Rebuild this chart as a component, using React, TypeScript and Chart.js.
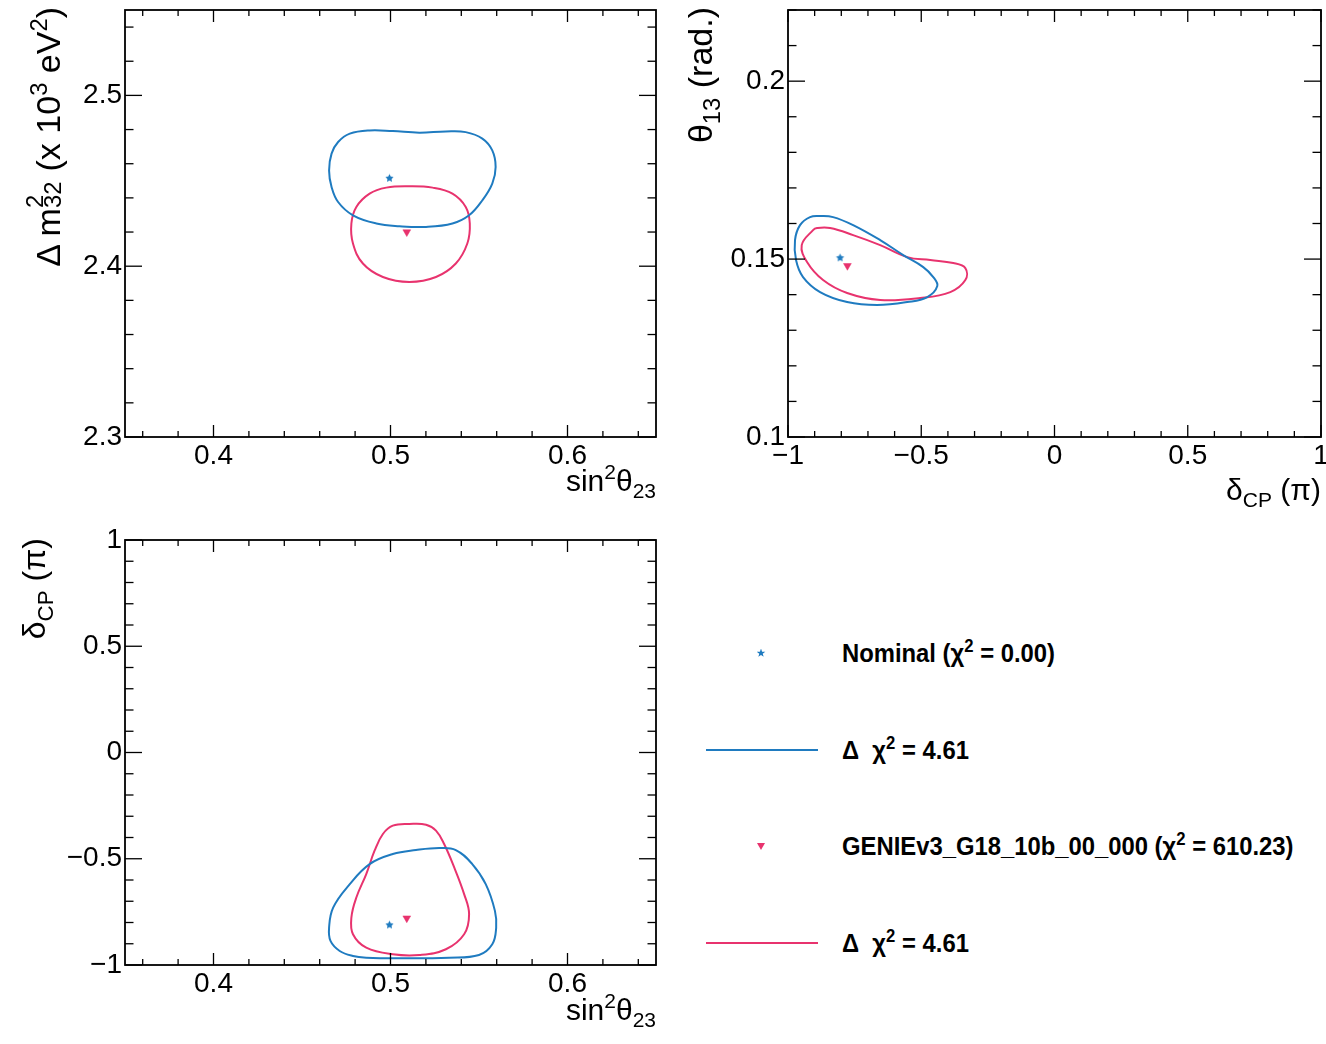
import React, { useEffect, useRef } from "react";
import { Chart, registerables } from "chart.js";
Chart.register(...registerables);

const BLUE = "#1f7bc0";
const PINK = "#e8336e";
const FONT = "'Liberation Sans', Arial, Helvetica, sans-serif";
const TICK_FONT_SIZE = 28;

// ---------- tick values / labels ----------
const SIN2_TICKS = [0.4, 0.5, 0.6];
const SIN2_LABELS = ["0.4", "0.5", "0.6"];
const DM32_TICKS = [2.3, 2.4, 2.5];
const DM32_LABELS = ["2.3", "2.4", "2.5"];
const DCP_TICKS = [-1, -0.5, 0, 0.5, 1];
const DCP_LABELS = ["\u22121", "\u22120.5", "0", "0.5", "1"];
const TH13_TICKS = [0.1, 0.15, 0.2];
const TH13_LABELS = ["0.1", "0.15", "0.2"];

// ---------- panel 1: sin2theta23 vs dm2_32 ----------
const P1_NOM_X = [0.4653, 0.4667, 0.4704, 0.477, 0.4882, 0.5013, 0.5163, 0.5313, 0.5425, 0.5519, 0.5575, 0.5594, 0.5575, 0.5519, 0.5444, 0.535, 0.5201, 0.5051, 0.492, 0.4788, 0.4704, 0.4667];
const P1_NOM_Y = [2.4561, 2.4659, 2.4727, 2.4776, 2.4795, 2.4791, 2.4782, 2.4789, 2.4785, 2.4747, 2.4678, 2.4581, 2.4484, 2.4386, 2.4298, 2.425, 2.423, 2.4234, 2.425, 2.4298, 2.4376, 2.4464];
const P1_GEN_X = [0.5107, 0.5238, 0.535, 0.5425, 0.5448, 0.5434, 0.5369, 0.5257, 0.5107, 0.4957, 0.4844, 0.4788, 0.4779, 0.4807, 0.4882, 0.4976];
const P1_GEN_Y = [2.4468, 2.446, 2.4425, 2.4347, 2.425, 2.4133, 2.4016, 2.3937, 2.3908, 2.3937, 2.4016, 2.4133, 2.425, 2.4347, 2.4425, 2.446];
const P1_NOM_BEST = { x: 0.4994, y: 2.4515 };
const P1_GEN_BEST = { x: 0.5092, y: 2.42 };

// ---------- panel 2: deltaCP vs theta13 ----------
const P2_NOM_X = [-0.9737, -0.9549, -0.9173, -0.8797, -0.8308, -0.7556, -0.6541, -0.5677, -0.4925, -0.4549, -0.4398, -0.4774, -0.5526, -0.6654, -0.7782, -0.8797, -0.9436, -0.9699];
const P2_NOM_Y = [0.15534, 0.15955, 0.1618, 0.16208, 0.1618, 0.15955, 0.15534, 0.15112, 0.14775, 0.14494, 0.14242, 0.13933, 0.13792, 0.13708, 0.13792, 0.14073, 0.14494, 0.14972];
const P2_GEN_X = [-0.906, -0.891, -0.8421, -0.7556, -0.6541, -0.5526, -0.4662, -0.3797, -0.3346, -0.3346, -0.391, -0.5038, -0.6541, -0.7782, -0.8684, -0.9286, -0.9485];
const P2_GEN_Y = [0.15815, 0.15871, 0.15871, 0.15674, 0.15393, 0.15056, 0.14972, 0.14888, 0.14747, 0.1441, 0.14073, 0.13904, 0.13848, 0.14045, 0.1441, 0.14916, 0.15393];
const P2_NOM_BEST = { x: -0.8045, y: 0.15037 };
const P2_GEN_BEST = { x: -0.7771, y: 0.14812 };

// ---------- panel 3: sin2theta23 vs deltaCP ----------
const P3_NOM_X = [0.4653, 0.4676, 0.477, 0.4882, 0.5013, 0.5144, 0.5275, 0.5369, 0.5462, 0.5538, 0.559, 0.5597, 0.5575, 0.55, 0.5331, 0.5051, 0.4863, 0.4788, 0.4713, 0.4661];
const P3_NOM_Y = [-0.8241, -0.7297, -0.6193, -0.525, -0.4778, -0.459, -0.4495, -0.459, -0.525, -0.6193, -0.7453, -0.8241, -0.9024, -0.9528, -0.9655, -0.9684, -0.9655, -0.9575, -0.934, -0.8868];
const P3_GEN_X = [0.5107, 0.5201, 0.5257, 0.5303, 0.536, 0.5416, 0.5444, 0.5416, 0.5313, 0.5163, 0.5013, 0.4863, 0.4788, 0.4779, 0.4807, 0.4863, 0.491, 0.4957, 0.5013];
const P3_GEN_Y = [-0.3363, -0.3396, -0.3679, -0.4307, -0.541, -0.6665, -0.7608, -0.8552, -0.9259, -0.9528, -0.9495, -0.9184, -0.8552, -0.7769, -0.6825, -0.5722, -0.4623, -0.3835, -0.3443];
const P3_NOM_BEST = { x: 0.4994, y: -0.8113 };
const P3_GEN_BEST = { x: 0.5092, y: -0.7797 };

const zip = (xs: number[], ys: number[]) => xs.map((x, i) => ({ x, y: ys[i] }));

function makeStar(color: string, r: number) {
  const size = Math.ceil(r * 2 + 2);
  const c = document.createElement("canvas");
  c.width = size;
  c.height = size;
  const g = c.getContext("2d")!;
  g.fillStyle = color;
  g.beginPath();
  for (let i = 0; i < 10; i++) {
    const rr = i % 2 === 0 ? r : r * 0.5;
    const a = -Math.PI / 2 + (i * Math.PI) / 5;
    const px = size / 2 + rr * Math.cos(a);
    const py = size / 2 + rr * Math.sin(a);
    if (i === 0) g.moveTo(px, py);
    else g.lineTo(px, py);
  }
  g.closePath();
  g.fill();
  return c;
}

const closedLoopPlugin = {
  id: "closedLoops",
  afterDatasetsUpdate(chart: any) {
    chart.data.datasets.forEach((ds: any, i: number) => {
      if (!ds.closed) return;
      const line: any = chart.getDatasetMeta(i).dataset;
      if (line) {
        line._loop = true;
        line._fullLoop = true;
        line._pointsUpdated = false;
        delete line._segments;
        line._path = undefined;
      }
    });
  },
};

const framePlugin = {
  id: "rootFrame",
  afterDraw(chart: any, _args: any, opts: any) {
    const { ctx, chartArea: a, scales } = chart;
    const xs = scales.x;
    const ys = scales.y;
    ctx.save();
    ctx.strokeStyle = "#000";
    ctx.lineWidth = 1.3;
    const seg = (x1: number, y1: number, x2: number, y2: number) => {
      ctx.beginPath();
      ctx.moveTo(x1, y1);
      ctx.lineTo(x2, y2);
      ctx.stroke();
    };
    const isMajor = (v: number, m: number) => Math.abs(v / m - Math.round(v / m)) < 1e-6;
    const xk0 = Math.ceil(xs.min / opts.xMinor - 1e-6);
    const xk1 = Math.floor(xs.max / opts.xMinor + 1e-6);
    for (let k = xk0; k <= xk1; k++) {
      const v = k * opts.xMinor;
      const len = isMajor(v, opts.xMajor) ? 12 : 6;
      const p = xs.getPixelForValue(v);
      seg(p, a.bottom, p, a.bottom - len);
      seg(p, a.top, p, a.top + len);
    }
    const yk0 = Math.ceil(ys.min / opts.yMinor - 1e-6);
    const yk1 = Math.floor(ys.max / opts.yMinor + 1e-6);
    for (let k = yk0; k <= yk1; k++) {
      const v = k * opts.yMinor;
      const len = isMajor(v, opts.yMajor) ? 17 : 8.5;
      const p = ys.getPixelForValue(v);
      seg(a.left, p, a.left + len, p);
      seg(a.right, p, a.right - len, p);
    }
    ctx.lineWidth = 1.8;
    ctx.strokeRect(a.left, a.top, a.right - a.left, a.bottom - a.top);
    ctx.restore();
  },
};

function axis(min: number, max: number, ticks: number[], labels: string[], pos: string, size: number, padding: number) {
  return {
    type: "linear",
    position: pos,
    min,
    max,
    afterBuildTicks: (s: any) => {
      s.ticks = ticks.map((v) => ({ value: v }));
    },
    afterFit: (s: any) => {
      if (pos === "bottom") s.height = size;
      else s.width = size;
      s.paddingLeft = 0;
      s.paddingRight = 0;
      s.paddingTop = 0;
      s.paddingBottom = 0;
    },
    ticks: {
      autoSkip: false,
      maxRotation: 0,
      minRotation: 0,
      padding,
      color: "#000",
      font: { family: FONT, size: TICK_FONT_SIZE },
      callback: (_v: any, i: number) => labels[i],
    },
    grid: { display: false, drawTicks: false },
    border: { display: false },
  };
}

type PanelCfg = {
  left: number; top: number; w: number; h: number;
  pad: { left: number; top: number; right: number; bottom: number };
  yWidth: number; xHeight: number;
  xMin: number; xMax: number; yMin: number; yMax: number;
  xTicks: number[]; xLabels: string[]; yTicks: number[]; yLabels: string[];
  xMajor: number; xMinor: number; yMajor: number; yMinor: number;
  nomX: number[]; nomY: number[]; genX: number[]; genY: number[];
  nomBest: { x: number; y: number }; genBest: { x: number; y: number };
};

const PANELS: PanelCfg[] = [
  {
    left: 0, top: 0, w: 680, h: 480, pad: { left: 0, top: 10, right: 24, bottom: 0 }, yWidth: 125, xHeight: 43,
    xMin: 0.35, xMax: 0.65, yMin: 2.3, yMax: 2.55,
    xTicks: SIN2_TICKS, xLabels: SIN2_LABELS, yTicks: DM32_TICKS, yLabels: DM32_LABELS,
    xMajor: 0.1, xMinor: 0.02, yMajor: 0.1, yMinor: 0.02,
    nomX: P1_NOM_X, nomY: P1_NOM_Y, genX: P1_GEN_X, genY: P1_GEN_Y, nomBest: P1_NOM_BEST, genBest: P1_GEN_BEST,
  },
  {
    left: 680, top: 0, w: 646, h: 480, pad: { left: 0, top: 10, right: 5, bottom: 0 }, yWidth: 108, xHeight: 43,
    xMin: -1, xMax: 1, yMin: 0.1, yMax: 0.22,
    xTicks: DCP_TICKS, xLabels: DCP_LABELS, yTicks: TH13_TICKS, yLabels: TH13_LABELS,
    xMajor: 0.5, xMinor: 0.1, yMajor: 0.05, yMinor: 0.01,
    nomX: P2_NOM_X, nomY: P2_NOM_Y, genX: P2_GEN_X, genY: P2_GEN_Y, nomBest: P2_NOM_BEST, genBest: P2_GEN_BEST,
  },
  {
    left: 0, top: 520, w: 680, h: 480, pad: { left: 0, top: 20, right: 24, bottom: 0 }, yWidth: 125, xHeight: 35,
    xMin: 0.35, xMax: 0.65, yMin: -1, yMax: 1,
    xTicks: SIN2_TICKS, xLabels: SIN2_LABELS, yTicks: DCP_TICKS, yLabels: DCP_LABELS,
    xMajor: 0.1, xMinor: 0.02, yMajor: 0.5, yMinor: 0.1,
    nomX: P3_NOM_X, nomY: P3_NOM_Y, genX: P3_GEN_X, genY: P3_GEN_Y, nomBest: P3_NOM_BEST, genBest: P3_GEN_BEST,
  },
];

function ChartPanel({ cfg }: { cfg: PanelCfg }) {
  const ref = useRef<HTMLCanvasElement>(null);
  useEffect(() => {
    const star = makeStar(BLUE, 4.3);
    const chart = new Chart(ref.current as HTMLCanvasElement, {
      type: "scatter",
      data: {
        datasets: [
          {
            type: "line", data: zip(cfg.nomX, cfg.nomY), borderColor: BLUE, borderWidth: 2,
            pointRadius: 0, tension: 0.4, fill: false, closed: true,
          } as any,
          {
            type: "line", data: zip(cfg.genX, cfg.genY), borderColor: PINK, borderWidth: 2,
            pointRadius: 0, tension: 0.4, fill: false, closed: true,
          } as any,
          {
            type: "scatter", data: [cfg.nomBest], pointStyle: star as any, pointRadius: 4,
            showLine: false,
          } as any,
          {
            type: "scatter", data: [cfg.genBest], pointStyle: "triangle", rotation: 180, pointRadius: 4.5,
            backgroundColor: PINK, borderColor: PINK, borderWidth: 0.5, showLine: false,
          } as any,
        ],
      },
      options: {
        responsive: false,
        animation: false,
        devicePixelRatio: 1,
        layout: { padding: cfg.pad },
        events: [],
        scales: {
          x: axis(cfg.xMin, cfg.xMax, cfg.xTicks, cfg.xLabels, "bottom", cfg.xHeight, 2) as any,
          y: axis(cfg.yMin, cfg.yMax, cfg.yTicks, cfg.yLabels, "left", cfg.yWidth, 3) as any,
        },
        plugins: {
          legend: { display: false },
          tooltip: { enabled: false },
          rootFrame: { xMajor: cfg.xMajor, xMinor: cfg.xMinor, yMajor: cfg.yMajor, yMinor: cfg.yMinor },
        } as any,
      },
      plugins: [closedLoopPlugin as any, framePlugin as any],
    });
    return () => chart.destroy();
  }, []);
  return (
    <canvas
      ref={ref}
      width={cfg.w}
      height={cfg.h}
      style={{ position: "absolute", left: cfg.left, top: cfg.top, width: cfg.w, height: cfg.h }}
    />
  );
}

const Sup = ({ t }: { t: string }) => (
  <span style={{ fontSize: "0.7em", position: "relative", top: "-0.55em", lineHeight: 0 }}>{t}</span>
);
const Sub = ({ t }: { t: string }) => (
  <span style={{ fontSize: "0.7em", position: "relative", top: "0.35em", lineHeight: 0 }}>{t}</span>
);
const SupSub = ({ a, b, w }: { a: string; b: string; w: string }) => (
  <span style={{ position: "relative", display: "inline-block", width: w, height: "1em" }}>
    <span style={{ position: "absolute", left: 0, top: "-0.12em", fontSize: "0.7em", lineHeight: 1 }}>{a}</span>
    <span style={{ position: "absolute", left: 0, top: "0.62em", fontSize: "0.7em", lineHeight: 1 }}>{b}</span>
  </span>
);

function HTitle({ right, baseline, size, children }: any) {
  const W = 400;
  return (
    <div
      style={{
        position: "absolute", left: right - W, top: baseline - 0.8465 * size, width: W, height: size,
        fontSize: size, lineHeight: `${size}px`, textAlign: "right", whiteSpace: "nowrap",
      }}
    >
      {children}
    </div>
  );
}

function VTitle({ baselineX, topEnd, size, children }: any) {
  const W = 400;
  return (
    <div
      style={{
        position: "absolute", left: baselineX - 0.8465 * size, top: topEnd + W, width: W, height: size,
        fontSize: size, lineHeight: `${size}px`, textAlign: "right", whiteSpace: "nowrap",
        transformOrigin: "0 0", transform: "rotate(-90deg)",
      }}
    >
      {children}
    </div>
  );
}

function LegendText({ y, children }: any) {
  const size = 25;
  return (
    <div
      style={{
        position: "absolute", left: 842, top: y + 9 - 0.8465 * size, height: size, fontSize: size,
        lineHeight: `${size}px`, fontWeight: "bold", whiteSpace: "nowrap",
        transformOrigin: "0 50%", transform: "scaleX(0.953)",
      }}
    >
      {children}
    </div>
  );
}

const STAR_CLIP =
  "polygon(50% 0%, 62% 36%, 98% 36%, 69% 58%, 80% 92%, 50% 71%, 20% 92%, 31% 58%, 2% 36%, 38% 36%)";

export default function App() {
  return (
    <div
      style={{
        position: "absolute", left: 0, top: 0, width: 1326, height: 1044, overflow: "hidden",
        background: "#fff", fontFamily: FONT, color: "#000",
      }}
    >
      {PANELS.map((p, i) => (
        <ChartPanel key={i} cfg={p} />
      ))}

      {/* axis titles */}
      <VTitle baselineX={55} topEnd={7} size={34}>
        {"\u0394 m"}
        <SupSub a="2" b="32" w="0.8em" />
        {" (x 10"}
        <Sup t="3" />
        {" eV"}
        <Sup t="2" />
        {")"}
      </VTitle>
      <HTitle right={656} baseline={491} size={30}>
        {"sin"}
        <Sup t="2" />
        {"\u03b8"}
        <Sub t="23" />
      </HTitle>

      <VTitle baselineX={712} topEnd={7} size={34}>
        {"\u03b8"}
        <Sub t="13" />
        {" (rad.)"}
      </VTitle>
      <HTitle right={1321} baseline={500} size={30}>
        {"\u03b4"}
        <Sub t="CP" />
        {" (\u03c0)"}
      </HTitle>

      <VTitle baselineX={45} topEnd={538} size={32}>
        {"\u03b4"}
        <Sub t="CP" />
        {" (\u03c0)"}
      </VTitle>
      <HTitle right={656} baseline={1020} size={30}>
        {"sin"}
        <Sup t="2" />
        {"\u03b8"}
        <Sub t="23" />
      </HTitle>

      {/* legend */}
      <div
        style={{
          position: "absolute", left: 761 - 4.5, top: 653 - 4.5, width: 9, height: 9,
          background: BLUE, clipPath: STAR_CLIP,
        }}
      />
      <LegendText y={653}>
        {"Nominal (\u03c7"}
        <Sup t="2" />
        {" = 0.00)"}
      </LegendText>

      <div style={{ position: "absolute", left: 706, top: 749, width: 112, height: 2, background: BLUE }} />
      <LegendText y={750}>
        {"\u0394\u00a0 \u03c7"}
        <Sup t="2" />
        {" = 4.61"}
      </LegendText>

      <div
        style={{
          position: "absolute", left: 761 - 4, top: 846 - 3, width: 0, height: 0,
          borderLeft: "4px solid transparent", borderRight: "4px solid transparent", borderTop: `7px solid ${PINK}`,
        }}
      />
      <LegendText y={846}>
        {"GENIEv3_G18_10b_00_000 (\u03c7"}
        <Sup t="2" />
        {" = 610.23)"}
      </LegendText>

      <div style={{ position: "absolute", left: 706, top: 942, width: 112, height: 2, background: PINK }} />
      <LegendText y={943}>
        {"\u0394\u00a0 \u03c7"}
        <Sup t="2" />
        {" = 4.61"}
      </LegendText>
    </div>
  );
}
